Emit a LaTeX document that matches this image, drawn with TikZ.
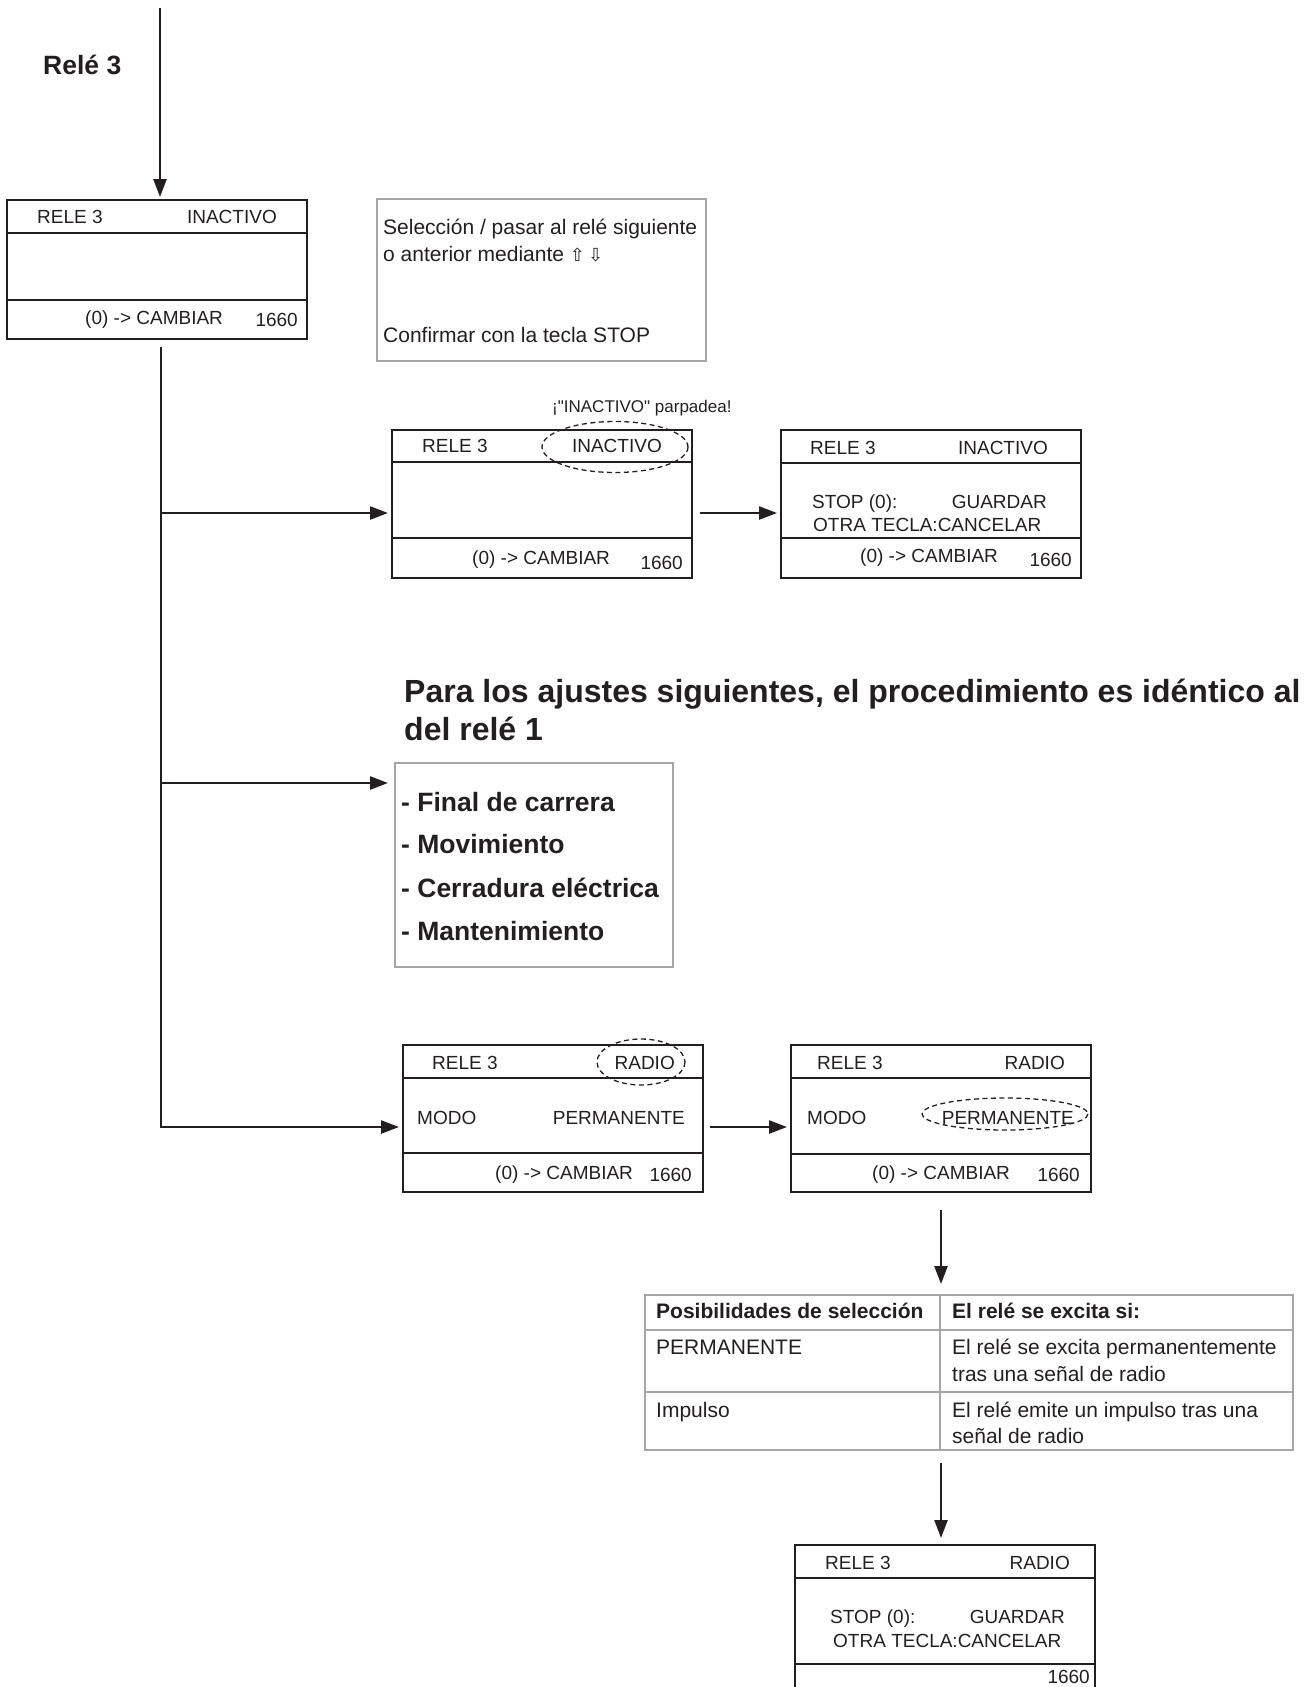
\documentclass[tikz,border=0pt]{standalone}
\usepackage{fontspec}
\setmainfont{Liberation Sans}
\newfontfamily\symfont{DejaVu Sans}
\usetikzlibrary{arrows.meta,calc}
\definecolor{ink}{HTML}{231F20}
\definecolor{frame}{HTML}{A6A6A6}
\begin{document}
\begin{tikzpicture}[x=1pt,y=-1pt,
  lcd/.style={draw=ink, line width=2.2pt, rectangle, minimum width=300pt, outer sep=0pt, inner sep=0pt},
  lcdline/.style={draw=ink, line width=2.2pt},
  graybox/.style={draw=frame, line width=1.5pt, rectangle, outer sep=0pt, inner sep=0pt},
  lcdtxt/.style={inner sep=0pt, text=ink, font=\fontsize{19}{22}\selectfont},
  infotxt/.style={inner sep=0pt, text=ink, font=\fontsize{21}{25}\selectfont},
  itemtxt/.style={inner sep=0pt, text=ink, font=\fontsize{26.5}{30}\selectfont\bfseries},
  headtxt/.style={inner sep=0pt, text=ink, font=\fontsize{32}{38}\selectfont\bfseries},
  tbltxt/.style={inner sep=0pt, text=ink, font=\fontsize{21}{25}\selectfont},
  tblhead/.style={tbltxt, font=\fontsize{21}{25}\selectfont\bfseries},
  notetxt/.style={inner sep=0pt, text=ink, font=\fontsize{17}{20}\selectfont},
  blink/.style={draw=ink, line width=1.3pt, dash pattern=on 5pt off 3.5pt},
  grid/.style={draw=frame, line width=1.5pt},
  link/.style={draw=ink, line width=2.4pt},
  arr/.style={link, -{Triangle[length=18pt,width=13pt]}, shorten >=4pt}]
\useasboundingbox (0,0) rectangle (1306,1687);
\clip (0,0) rectangle (1306,1687);

% display box: name, left, top, height, header line, footer line
\newcommand\lcdbox[6]{%
  \node[lcd, minimum height=#4pt, anchor=north west] (#1) at (#2,#3) {};
  \draw[lcdline] ($(#1.north west)+(0,#5)$) -- ($(#1.north east)+(0,#5)$);
  \draw[lcdline] ($(#1.north west)+(0,#6)$) -- ($(#1.north east)+(0,#6)$);
}

% ---- title
\node[itemtxt, anchor=base west] (title) at (43,74) {Relé 3};

% ---- first display
\lcdbox{b1}{7}{200}{139}{33}{100}
\node[lcdtxt, anchor=base west] (b1a) at (37,223) {RELE 3};
\node[lcdtxt, anchor=base east] (b1b) at (277,223) {INACTIVO};
\node[lcdtxt, anchor=base west] (b1c) at (85,324) {(0) -> CAMBIAR};
\node[lcdtxt, anchor=base east] (b1d) at (298,326) {1660};

\coordinate (start) at (160,8);
\draw[arr, shorten >=3pt] (start) -- (start |- b1.north);

% ---- hint box
\node[graybox, minimum width=329pt, minimum height=162pt, anchor=north west] (hint) at (377,199) {};
\node[infotxt, anchor=base west] (h1) at (383,234.5) {Selección / pasar al relé siguiente};
\node[infotxt, anchor=base west] (h2) at (383,261.5) {o anterior mediante {\symfont\fontsize{18}{20}\selectfont ⇧\,⇩}};
\node[infotxt, anchor=base west] (h3) at (383,342) {Confirmar con la tecla STOP};

% ---- second display (blinking)
\lcdbox{b3}{392}{430}{148}{32}{108}
\node[lcdtxt, anchor=base west] (b3a) at (422,452) {RELE 3};
\node[lcdtxt, anchor=base east] (b3b) at (662,452) {INACTIVO};
\node[lcdtxt, anchor=base west] (b3c) at (472,564) {(0) -> CAMBIAR};
\node[lcdtxt, anchor=base east] (b3d) at (683,569) {1660};
\draw[blink] (615,447) ellipse [x radius=73, y radius=25.5];
\node[notetxt, anchor=base west] (note) at (552,412) {¡\textquotedbl INACTIVO\textquotedbl{} parpadea!};

% ---- third display (confirm)
\lcdbox{b4}{781}{430}{148}{33}{108}
\node[lcdtxt, anchor=base west] (b4a) at (810,454) {RELE 3};
\node[lcdtxt, anchor=base east] (b4b) at (1048,454) {INACTIVO};
\node[lcdtxt, anchor=base west] (b4c) at (812,508) {STOP (0):};
\node[lcdtxt, anchor=base east] (b4d) at (1047,508) {GUARDAR};
\node[lcdtxt, anchor=base west] (b4e) at (813,531) {OTRA TECLA:CANCELAR};
\node[lcdtxt, anchor=base west] (b4f) at (860,562) {(0) -> CAMBIAR};
\node[lcdtxt, anchor=base east] (b4g) at (1072,566) {1660};

% ---- heading
\node[headtxt, anchor=base west] (head1) at (404,702) {Para los ajustes siguientes, el procedimiento es idéntico al};
\node[headtxt, anchor=base west] (head2) at (404,740) {del relé 1};

% ---- list box
\node[graybox, minimum width=278pt, minimum height=204pt, anchor=north west] (lst) at (395,763) {};
\node[itemtxt, anchor=base west] (l1) at (401,811.5) {- Final de carrera};
\node[itemtxt, anchor=base west] (l2) at (401,853.5) {- Movimiento};
\node[itemtxt, anchor=base west] (l3) at (401,897.5) {- Cerradura eléctrica};
\node[itemtxt, anchor=base west] (l4) at (401,940.5) {- Mantenimiento};

% ---- mode displays
\lcdbox{b5}{403}{1045}{147}{33}{108}
\node[lcdtxt, anchor=base west] (b5a) at (432,1069) {RELE 3};
\node[lcdtxt, anchor=base east] (b5b) at (675,1069) {RADIO};
\node[lcdtxt, anchor=base west] (b5c) at (417,1124) {MODO};
\node[lcdtxt, anchor=base east] (b5d) at (685,1124) {PERMANENTE};
\node[lcdtxt, anchor=base west] (b5e) at (495,1179) {(0) -> CAMBIAR};
\node[lcdtxt, anchor=base east] (b5f) at (692,1181) {1660};
\draw[blink] (641,1062) ellipse [x radius=44, y radius=23];

\lcdbox{b6}{791}{1045}{147}{33}{109}
\node[lcdtxt, anchor=base west] (b6a) at (817,1069) {RELE 3};
\node[lcdtxt, anchor=base east] (b6b) at (1065,1069) {RADIO};
\node[lcdtxt, anchor=base west] (b6c) at (807,1124) {MODO};
\node[lcdtxt, anchor=base east] (b6d) at (1074,1124) {PERMANENTE};
\node[lcdtxt, anchor=base west] (b6e) at (872,1179) {(0) -> CAMBIAR};
\node[lcdtxt, anchor=base east] (b6f) at (1080,1181) {1660};
\draw[blink] (1005,1114) ellipse [x radius=83, y radius=16];

% ---- selection table
\node[graybox, minimum width=648pt, minimum height=155pt, anchor=north west] (tbl) at (645,1295) {};
\draw[grid] (tbl.north west -| 940,0) -- (tbl.south west -| 940,0);
\draw[grid] (tbl.west |- 0,1330) -- (tbl.east |- 0,1330);
\draw[grid] (tbl.west |- 0,1392) -- (tbl.east |- 0,1392);
\node[tblhead, anchor=base west] (t1) at (656,1318.5) {Posibilidades de selección};
\node[tblhead, anchor=base west] (t2) at (952,1318.5) {El relé se excita si:};
\node[tbltxt, anchor=base west] (t3) at (656,1354.5) {PERMANENTE};
\node[tbltxt, anchor=base west] (t4) at (952,1354.5) {El relé se excita permanentemente};
\node[tbltxt, anchor=base west] (t5) at (952,1381.5) {tras una señal de radio};
\node[tbltxt, anchor=base west] (t6) at (656,1417.5) {Impulso};
\node[tbltxt, anchor=base west] (t7) at (952,1417.5) {El relé emite un impulso tras una};
\node[tbltxt, anchor=base west] (t8) at (952,1443.5) {señal de radio};

% ---- final display
\lcdbox{b7}{795}{1545}{160}{33}{119}
\node[lcdtxt, anchor=base west] (b7a) at (825,1569) {RELE 3};
\node[lcdtxt, anchor=base east] (b7b) at (1070,1569) {RADIO};
\node[lcdtxt, anchor=base west] (b7c) at (830,1623) {STOP (0):};
\node[lcdtxt, anchor=base east] (b7d) at (1065,1623) {GUARDAR};
\node[lcdtxt, anchor=base west] (b7e) at (833,1647) {OTRA TECLA:CANCELAR};
\node[lcdtxt, anchor=base east] (b7f) at (1090,1683) {1660};

% ---- connectors
\coordinate (t0) at (161,347);
\coordinate (j1) at (161,513);
\coordinate (j2) at (161,783);
\coordinate (j3) at (161,1127);
\draw[arr] (t0) -- (j3) -- (b5.west |- j3);
\draw[arr] (j1) -- (b3.west |- j1);
\draw[arr, shorten >=7pt] (j2) -- (lst.west |- j2);
\draw[arr] ($(b3.east)+(8,9)$) -- ($(b4.west)+(0,9)$);
\draw[arr] ($(b5.east)+(7,8.5)$) -- ($(b6.west)+(0,8.5)$);
\coordinate (d1) at ($(b6.south)+(0,18)$);
\draw[arr, shorten >=11pt] (d1) -- (d1 |- tbl.north);
\coordinate (d2) at ($(d1 |- tbl.south)+(0,13)$);
\draw[arr, shorten >=7pt] (d2) -- (d2 |- b7.north);
\end{tikzpicture}
\end{document}
